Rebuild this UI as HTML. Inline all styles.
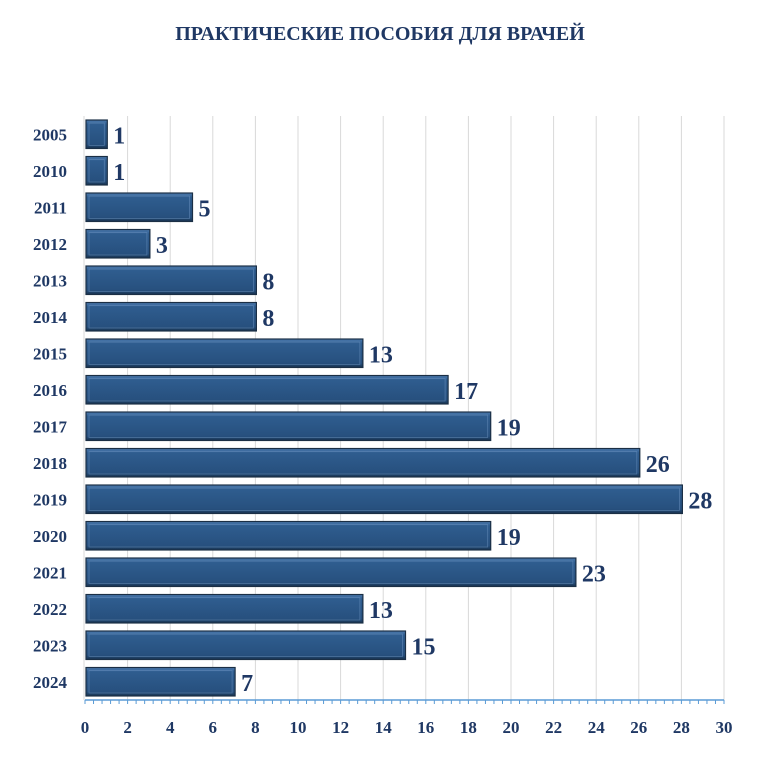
<!DOCTYPE html>
<html><head><meta charset="utf-8"><style>
body{margin:0;background:#fff;width:776px;height:768px;overflow:hidden}
text{font-family:"Liberation Serif",serif;font-weight:bold;fill:#1f3864}
</style></head><body>
<svg id="chart" width="776" height="768" xmlns="http://www.w3.org/2000/svg">
<defs>
<linearGradient id="bg" x1="0" y1="0" x2="0" y2="1">
<stop offset="0" stop-color="#4d7bb0"/><stop offset="0.15" stop-color="#2f5d8f"/><stop offset="0.85" stop-color="#27507e"/><stop offset="1" stop-color="#17324f"/>
</linearGradient>
</defs>
<text x="380" y="40" text-anchor="middle" font-size="20">ПРАКТИЧЕСКИЕ ПОСОБИЯ ДЛЯ ВРАЧЕЙ</text>
<g id="grid"></g><g id="bars"></g><g id="axis"></g>
</svg>
<script>
const categories=["2005","2010","2011","2012","2013","2014","2015","2016","2017","2018","2019","2020","2021","2022","2023","2024"];
const values=[1,1,5,3,8,8,13,17,19,26,28,19,23,13,15,7];
const xTicks=[0,2,4,6,8,10,12,14,16,18,20,22,24,26,28,30];
const NS="http://www.w3.org/2000/svg";
const x0=85,x1=724,yTop=116,yBottom=700,xMax=30;
const xs=v=>x0+(x1-x0)*v/xMax;
const band=(yBottom-yTop)/categories.length;
const ys=i=>yTop+band*i;
function mk(t,a,p){const e=document.createElementNS(NS,t);for(const k in a)e.setAttribute(k,a[k]);p.appendChild(e);return e;}
const g=document.getElementById('grid'),b=document.getElementById('bars'),ax=document.getElementById('axis');
xTicks.forEach(t=>{
 if(t>0){const l=mk('line',{x1:xs(t),x2:xs(t),y1:yTop,y2:yBottom,stroke:'#d9d9d9','stroke-width':1},g);
 
 }
 const tx=mk('text',{x:xs(t),y:yBottom+33,'text-anchor':'middle','font-size':17},ax);tx.textContent=t;
 
 
});
for(let v=0;v<=xMax+0.01;v+=0.4){mk('line',{x1:xs(v),x2:xs(v),y1:yBottom,y2:yBottom+4,stroke:'#5b9bd5','stroke-width':1},ax);}
const al=mk('line',{x1:x0,x2:x1,y1:yBottom,y2:yBottom,stroke:'#5b9bd5','stroke-width':1.5},ax);


mk('line',{x1:x0-1,x2:x0-1,y1:yTop,y2:yBottom,stroke:'#d9d9d9','stroke-width':1},ax);
categories.forEach((c,i)=>{
 const y=ys(i),h=band*0.78,yy=y+(band-h)/2,w=xs(values[i])-x0;
 const r=mk('rect',{x:x0+1,y:yy,width:w,height:h,fill:'url(#bg)',stroke:'#1b2f45','stroke-width':1.2},b);
 
 
 mk('rect',{x:x0+4,y:yy+3,width:Math.max(w-6,0),height:h-6,fill:'none',stroke:'#6d93bf','stroke-width':0.8,opacity:0.6},b);
 const lb=mk('text',{x:67,y:y+band/2+6,'text-anchor':'end','font-size':17},b);lb.textContent=c;
 
 
 const vl=mk('text',{x:xs(values[i])+7,y:y+band/2+9,'font-size':24},b);vl.textContent=values[i];
 
 
});
</script>
</body></html>
